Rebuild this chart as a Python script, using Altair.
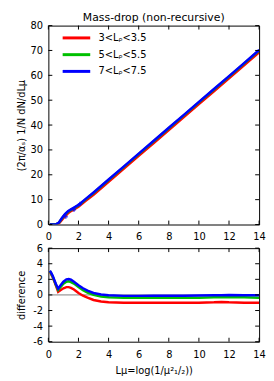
import altair as alt
import pandas as pd

series = ["3<Lᵨ<3.5", "5<Lᵨ<5.5", "7<Lᵨ<7.5"]
colors = ["#ff0000", "#00c000", "#0000ff"]

L_top = [0.1, 0.3, 0.5, 0.7, 0.9, 1.1, 1.3, 1.5, 1.7, 2.0, 2.5, 3.0, 3.5,
         4, 5, 6, 7, 8, 9, 10, 11, 12, 13, 14]
top_red = [0, 0, 0, 0.4, 1.8, 3.3, 4.5, 5.4, 6.1, 7.2, 9.6, 12.0, 14.6,
           17.2, 22.4, 27.6, 32.8, 38.0, 43.2, 48.4, 53.6, 58.8, 64.0, 69.3]
top_green = [0, 0, 0.1, 0.7, 2.4, 4.0, 5.1, 5.9, 6.6, 7.7, 10.2, 12.7, 15.3,
             17.9, 23.1, 28.3, 33.5, 38.7, 43.9, 49.1, 54.3, 59.5, 64.7, 70.0]
top_blue = [0, 0, 0.1, 0.8, 2.6, 4.2, 5.3, 6.1, 6.8, 7.9, 10.4, 12.9, 15.5,
            18.1, 23.3, 28.5, 33.7, 38.9, 44.1, 49.3, 54.5, 59.7, 64.9, 70.2]

pts_L = [1.15, 1.7, 2.1]
pts_v = [3.2, 6.0, 8.3]

L_diff = [0.1, 0.2, 0.3, 0.4, 0.5, 0.65, 0.8, 1.0, 1.2, 1.35, 1.5, 1.7, 2.0,
          2.3, 2.6, 3.0, 3.5, 4, 5, 6, 7, 8, 9, 10, 11, 11.5, 12, 13, 14]
diff_red = [3.0, 2.6, 2.2, 1.7, 1.2, 0.4, 0.6, 0.85, 1.0, 1.0, 0.9, 0.7, 0.25,
            -0.1, -0.35, -0.65, -0.85, -0.95, -1.0, -1.0, -1.0, -1.0, -1.0,
            -1.0, -0.95, -0.9, -0.95, -1.0, -1.0]
diff_green = [3.05, 2.7, 2.3, 1.8, 1.3, 0.65, 1.0, 1.45, 1.7, 1.75, 1.65, 1.45,
              1.0, 0.6, 0.3, 0.0, -0.2, -0.3, -0.35, -0.35, -0.35, -0.35,
              -0.35, -0.35, -0.3, -0.3, -0.3, -0.3, -0.35]
diff_blue = [3.1, 2.8, 2.4, 1.9, 1.4, 0.8, 1.2, 1.7, 2.0, 2.05, 1.95, 1.7, 1.25,
             0.85, 0.55, 0.25, 0.05, -0.05, -0.12, -0.12, -0.1, -0.1, -0.1,
             -0.08, -0.05, -0.05, -0.02, -0.05, -0.05]

x_ticks = [0, 2, 4, 6, 8, 10, 12, 14]
y_ticks_top = [0, 10, 20, 30, 40, 50, 60, 70, 80]
y_ticks_bot = [-6, -4, -2, 0, 2, 4, 6]

W, H1, H2 = 214, 202, 95
FONT = "DejaVu Sans"


def long(xs, ys_list):
    rows = []
    for k, (s, ys) in enumerate(zip(series, ys_list)):
        for x, y in zip(xs, ys):
            rows.append({"L": x, "v": y, "s": s, "k": k})
    return pd.DataFrame(rows)


df_top = long(L_top, [top_red, top_green, top_blue])
df_diff = long(L_diff, [diff_red, diff_green, diff_blue])
df_pts = pd.DataFrame({"L": pts_L, "v": pts_v})

xs = alt.Scale(domain=[0, 14], nice=False, zero=False)
ys_top = alt.Scale(domain=[0, 80], nice=False)
ys_bot = alt.Scale(domain=[-6, 6], nice=False)
cscale = alt.Scale(domain=series, range=colors)

common = dict(labelExpr="'' + datum.value", labelOverlap=False, labelFlush=False, labelBound=False)
AX_X_TOP = alt.Axis(values=x_ticks, title=None, labelPadding=7, **common)
AX_Y_TOP = alt.Axis(values=y_ticks_top, title="(2π/αₛ)  1/N dN/dLμ", titleX=-22, **common)
AX_X_BOT = alt.Axis(values=x_ticks, title="Lμ=log(1/μ²₁/₂))", labelPadding=8, titlePadding=6, **common)
AX_Y_BOT = alt.Axis(values=y_ticks_bot, title="difference", titleX=-22, **common)


def X(ax):
    return alt.X("L:Q", scale=xs, axis=ax)


def Y(sc, ax):
    return alt.Y("v:Q", scale=sc, axis=ax)


def tick_layers(ysc, yvals, H, axx, axy):
    dx = pd.DataFrame({"L": x_ticks})
    dy = pd.DataFrame({"v": yvals})
    r = dict(color="black", strokeWidth=1)
    return [
        alt.Chart(dx).mark_rule(**r).encode(x=X(axx), y=alt.value(H), y2=alt.value(H - 4)),
        alt.Chart(dx).mark_rule(**r).encode(x=X(axx), y=alt.value(0), y2=alt.value(4)),
        alt.Chart(dy).mark_rule(**r).encode(y=Y(ysc, axy), x=alt.value(0), x2=alt.value(4)),
        alt.Chart(dy).mark_rule(**r).encode(y=Y(ysc, axy), x=alt.value(W), x2=alt.value(W - 4)),
    ]


top_lines = alt.Chart(df_top).mark_line(strokeWidth=2.5, clip=True).encode(
    x=X(AX_X_TOP), y=Y(ys_top, AX_Y_TOP),
    color=alt.Color("s:N", scale=cscale, sort=series, legend=alt.Legend(
        title=None, orient="none", legendX=13, legendY=4,
        symbolType="M-1,0H3", symbolSize=196, symbolStrokeWidth=3,
        labelOffset=21, labelFont=FONT, labelFontSize=10, labelColor="black", rowPadding=2)),
    order=alt.Order("k:Q"),
)
top_pts = alt.Chart(df_pts).mark_point(shape="cross", filled=True, size=18, color="#0000ff").encode(
    x=X(AX_X_TOP), y=Y(ys_top, AX_Y_TOP))

top = alt.layer(top_lines, top_pts, *tick_layers(ys_top, y_ticks_top, H1, AX_X_TOP, AX_Y_TOP)).properties(
    width=W, height=H1,
    title=alt.TitleParams("Mass-drop (non-recursive)", font=FONT, fontSize=11, fontWeight="normal",
                          color="black", frame="group", anchor="middle", offset=-2),
)

zero = alt.Chart(pd.DataFrame({"v": [0]})).mark_rule(color="#808080", strokeWidth=1).encode(
    y=Y(ys_bot, AX_Y_BOT))
bot_lines = alt.Chart(df_diff).mark_line(strokeWidth=2.5, clip=True).encode(
    x=X(AX_X_BOT), y=Y(ys_bot, AX_Y_BOT),
    color=alt.Color("s:N", scale=cscale, sort=series, legend=None),
    order=alt.Order("k:Q"),
)
bot = alt.layer(zero, bot_lines, *tick_layers(ys_bot, y_ticks_bot, H2, AX_X_BOT, AX_Y_BOT)).properties(
    width=W, height=H2)

chart = alt.vconcat(top, bot, spacing=0).properties(
    padding={"left": 8, "top": 0, "right": 0, "bottom": 0}
).resolve_scale(color="shared").configure_axis(
    ticks=False, domain=False, grid=False, labelOverlap=False, labelFlush=False,
    labelFont=FONT, labelFontSize=10, labelColor="black", labelPadding=6,
    titleFont=FONT, titleFontSize=10, titleFontWeight="normal", titleColor="black",
).configure_view(stroke="black", strokeWidth=1)

chart.save("out.html", embed_options={"renderer": "svg", "actions": False})
